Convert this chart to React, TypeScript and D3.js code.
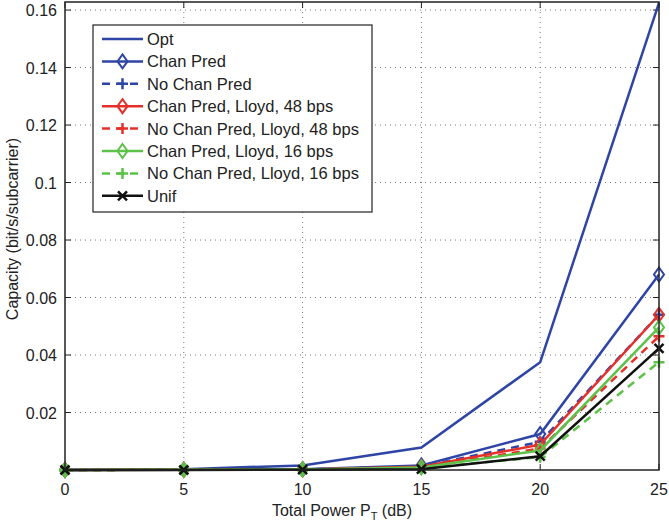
import React, { useEffect, useRef } from 'react';
import * as d3 from 'd3';

const powers = [0, 5, 10, 15, 20, 25];
const optVals = [0, 0.0003, 0.0016, 0.0078, 0.0375, 0.1625];
const chanPredVals = [0, 0.0001, 0.0003, 0.0016, 0.0125, 0.068];
const noChanPredVals = [0, 0.0001, 0.0002, 0.0012, 0.0098, 0.054];
const lloyd48Vals = [0, 0.0001, 0.0002, 0.0011, 0.0088, 0.054];
const noLloyd48Vals = [0, 0.0001, 0.0002, 0.0009, 0.0075, 0.0465];
const lloyd16Vals = [0, 0.0001, 0.0002, 0.0009, 0.0068, 0.0496];
const noLloyd16Vals = [0, 0.0001, 0.0001, 0.0006, 0.0045, 0.0375];
const unifVals = [0, 0, 0.0001, 0.0003, 0.0048, 0.0423];

const xTicks = [0, 5, 10, 15, 20, 25];
const yTicks = [0.02, 0.04, 0.06, 0.08, 0.1, 0.12, 0.14, 0.16];

const BLUE = '#2f45a6';
const RED = '#e5302a';
const GREEN = '#5cc24a';

const series = [
  { name: 'Opt', values: optVals, color: BLUE, dash: false, marker: 'none' },
  { name: 'Chan Pred', values: chanPredVals, color: BLUE, dash: false, marker: 'diamond' },
  { name: 'No Chan Pred', values: noChanPredVals, color: BLUE, dash: true, marker: 'plus' },
  { name: 'Chan Pred, Lloyd, 48 bps', values: lloyd48Vals, color: RED, dash: false, marker: 'diamond' },
  { name: 'No Chan Pred, Lloyd, 48 bps', values: noLloyd48Vals, color: RED, dash: true, marker: 'plus' },
  { name: 'Chan Pred, Lloyd, 16 bps', values: lloyd16Vals, color: GREEN, dash: false, marker: 'diamond' },
  { name: 'No Chan Pred, Lloyd, 16 bps', values: noLloyd16Vals, color: GREEN, dash: true, marker: 'plus' },
  { name: 'Unif', values: unifVals, color: '#111111', dash: false, marker: 'cross' },
];

const W = 669;
const H = 527;
const margin = { top: 2, right: 10, bottom: 57, left: 65 };

const drawMarker = (g, type, cx, cy, color) => {
  if (type === 'diamond') {
    const r = 7;
    g.append('path')
      .attr('d', `M${cx},${cy - r}L${cx + r * 0.72},${cy}L${cx},${cy + r}L${cx - r * 0.72},${cy}Z`)
      .attr('fill', 'none').attr('stroke', color).attr('stroke-width', 2);
  } else if (type === 'plus') {
    const r = 5.5;
    g.append('path')
      .attr('d', `M${cx - r},${cy}H${cx + r}M${cx},${cy - r}V${cy + r}`)
      .attr('stroke', color).attr('stroke-width', 2.5).attr('fill', 'none');
  } else if (type === 'cross') {
    const r = 4.5;
    g.append('path')
      .attr('d', `M${cx - r},${cy - r}L${cx + r},${cy + r}M${cx - r},${cy + r}L${cx + r},${cy - r}`)
      .attr('stroke', color).attr('stroke-width', 2.5).attr('fill', 'none');
  }
};

const App = () => {
  const svgRef = useRef(null);

  useEffect(() => {
    const root = d3.select(svgRef.current);
    root.selectAll('*').remove();

    const width = W - margin.left - margin.right;
    const height = H - margin.top - margin.bottom;

    const x = d3.scaleLinear().domain([0, 25]).range([0, width]);
    const y = d3.scaleLinear().domain([0, 0.1628]).range([height, 0]);

    const svg = root.append('g').attr('transform', `translate(${margin.left},${margin.top})`);
    const font = 'Liberation Sans, Arial, Helvetica, sans-serif';

    // grid
    svg.append('g')
      .selectAll('line.gx')
      .data(xTicks.slice(1, -1))
      .enter().append('line')
      .attr('x1', d => x(d)).attr('x2', d => x(d))
      .attr('y1', 0).attr('y2', height)
      .attr('stroke', '#777').attr('stroke-width', 1).attr('stroke-dasharray', '1,4');
    svg.append('g')
      .selectAll('line.gy')
      .data(yTicks)
      .enter().append('line')
      .attr('x1', 0).attr('x2', width)
      .attr('y1', d => y(d)).attr('y2', d => y(d))
      .attr('stroke', '#777').attr('stroke-width', 1).attr('stroke-dasharray', '1,4');

    // tick marks (inward, both sides)
    const tk = 6;
    xTicks.forEach(t => {
      svg.append('line').attr('x1', x(t)).attr('x2', x(t)).attr('y1', height).attr('y2', height - tk).attr('stroke', '#222');
      svg.append('line').attr('x1', x(t)).attr('x2', x(t)).attr('y1', 0).attr('y2', tk).attr('stroke', '#222');
    });
    yTicks.forEach(t => {
      svg.append('line').attr('x1', 0).attr('x2', tk).attr('y1', y(t)).attr('y2', y(t)).attr('stroke', '#222');
      svg.append('line').attr('x1', width).attr('x2', width - tk).attr('y1', y(t)).attr('y2', y(t)).attr('stroke', '#222');
    });

    // tick labels
    svg.append('g').selectAll('text')
      .data(xTicks).enter().append('text')
      .attr('x', d => x(d)).attr('y', height + 25)
      .attr('text-anchor', 'middle')
      .attr('font-family', font).attr('font-size', 16).attr('fill', '#222')
      .text(d => d);
    svg.append('g').selectAll('text')
      .data(yTicks).enter().append('text')
      .attr('x', -8).attr('y', d => y(d) + 6)
      .attr('text-anchor', 'end')
      .attr('font-family', font).attr('font-size', 16).attr('fill', '#222')
      .text(d => d3.format('~g')(d));

    // axis labels
    const xl = svg.append('text')
      .attr('x', 277).attr('y', height + 46)
      .attr('text-anchor', 'middle')
      .attr('font-family', font).attr('font-size', 16).attr('fill', '#222');
    xl.append('tspan').text('Total Power P');
    xl.append('tspan').attr('font-size', 11).attr('dy', 4).text('T');
    xl.append('tspan').attr('dy', -4).text(' (dB)');

    svg.append('text')
      .attr('transform', `translate(${18 - margin.left},${229 - margin.top}) rotate(-90)`)
      .attr('text-anchor', 'middle')
      .attr('font-family', font).attr('font-size', 16).attr('fill', '#222')
      .text('Capacity (bit/s/subcarrier)');

    // lines
    const line = d3.line().x((d, i) => x(powers[i])).y(d => y(d));
    series.forEach(s => {
      const g = svg.append('g');
      g.append('path')
        .datum(s.values)
        .attr('fill', 'none')
        .attr('stroke', s.color)
        .attr('stroke-width', 2.5)
        .attr('stroke-dasharray', s.dash ? '8,6' : null)
        .attr('d', line);
      s.values.forEach((v, i) => drawMarker(g, s.marker, x(powers[i]), y(v), s.color));
    });

    // frame
    svg.append('rect')
      .attr('x', 0).attr('y', 0).attr('width', width).attr('height', height)
      .attr('fill', 'none').attr('stroke', '#222').attr('stroke-width', 1.5);

    // legend
    const lg = root.append('g');
    lg.append('rect')
      .attr('x', 93).attr('y', 25).attr('width', 279).attr('height', 187)
      .attr('fill', '#fff').attr('stroke', '#222').attr('stroke-width', 1.2);
    series.forEach((s, i) => {
      const ly = 39 + i * 22.4;
      lg.append('line')
        .attr('x1', 102).attr('x2', 143).attr('y1', ly).attr('y2', ly)
        .attr('stroke', s.color).attr('stroke-width', 2.5)
        .attr('stroke-dasharray', s.dash ? '8,6' : null);
      drawMarker(lg, s.marker, 122.5, ly, s.color);
      lg.append('text')
        .attr('x', 147).attr('y', ly + 6)
        .attr('font-family', font).attr('font-size', 16.5).attr('fill', '#222')
        .text(s.name);
    });
  }, []);

  return (
    <svg ref={svgRef} width={W} height={H}
      style={{ position: 'absolute', left: 0, top: 0, background: '#fff' }} />
  );
};

export default App;
